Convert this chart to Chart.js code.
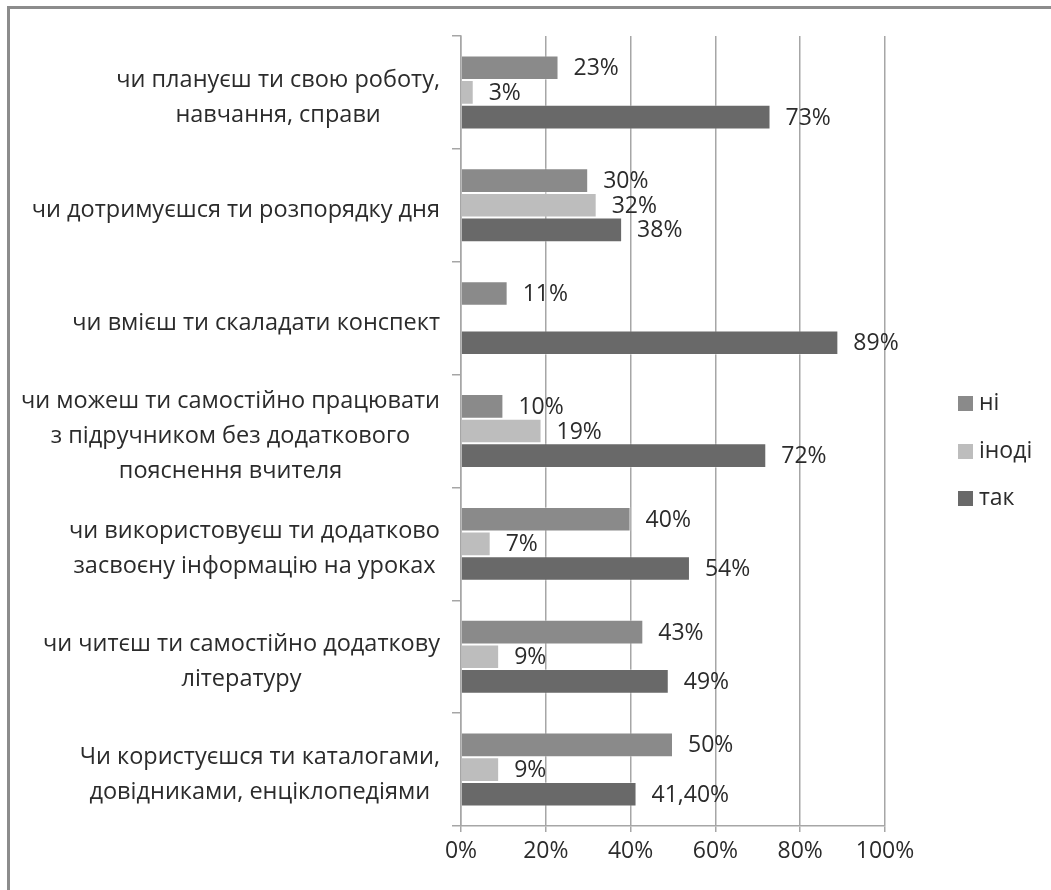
<!DOCTYPE html>
<html lang="uk">
<head>
<meta charset="utf-8">
<title>Самостійна робота учнів</title>
<script src="https://cdn.jsdelivr.net/npm/chart.js@4.4.1/dist/chart.umd.min.js"></script>
<style>
  html, body { margin: 0; padding: 0; background: #fff; overflow: hidden; }
  #wrap { position: relative; width: 1051px; height: 890px; }
  #frame {
    position: absolute; left: 7px; top: 6px; width: 1100px; height: 1000px;
    border-left: 3px solid #8c8c8c; border-top: 3px solid #8c8c8c;
    pointer-events: none;
  }
  canvas { position: absolute; left: 0; top: 0; }
</style>
</head>
<body>
<div id="wrap">
  <canvas id="chart" width="1051" height="890"></canvas>
  <div id="frame"></div>
</div>
<script>
// питання анкети (зверху вниз)
const questions = [
  ["чи плануєш ти свою роботу,", "навчання, справи"],
  ["чи дотримуєшся ти розпорядку дня"],
  ["чи вмієш ти скаладати конспект"],
  ["чи можеш ти самостійно працювати", "з підручником без додаткового", "пояснення вчителя"],
  ["чи використовуєш ти додатково", "засвоєну інформацію на уроках"],
  ["чи читєш ти самостійно додаткову", "літературу"],
  ["Чи користуєшся ти каталогами,", "довідниками, енціклопедіями"]
];

const seriesNames = ["ні", "іноді", "так"];
const noValues = [23, 30, 11, 10, 40, 43, 50];
const sometimesValues = [3, 32, null, 19, 7, 9, 9];
const yesValues = [73, 38, 89, 72, 54, 49, 41.4];
const xTicks = [0, 20, 40, 60, 80, 100];

const FONT = '"Open Sans", "Noto Sans", sans-serif';
const TEXT = "#2b2b2b";
const GRID = "#a6a6a6";
const colors = ["#8a8a8a", "#bdbdbd", "#696969"];

function pct(v) {
  if (Number.isInteger(v)) return v + "%";
  return v.toFixed(2).replace(".", ",") + "%";
}

// підписи значень праворуч від смуг
const valueLabels = {
  id: "valueLabels",
  afterDatasetsDraw(chart) {
    const ctx = chart.ctx;
    ctx.save();
    ctx.font = "23px " + FONT;
    ctx.fillStyle = TEXT;
    ctx.textAlign = "left";
    ctx.textBaseline = "middle";
    chart.data.datasets.forEach((ds, di) => {
      chart.getDatasetMeta(di).data.forEach((bar, i) => {
        const v = ds.data[i];
        if (v == null) return;
        ctx.fillText(pct(v), bar.x + 15, bar.y + 1);
      });
    });
    ctx.restore();
  }
};

// підписи категорій: рядки по центру блоку, блок вирівняний праворуч
const questionLabels = {
  id: "questionLabels",
  afterDraw(chart) {
    const ctx = chart.ctx;
    const y = chart.scales.y;
    const right = 440;
    const lineH = 35;
    ctx.save();
    ctx.font = "23.5px " + FONT;
    ctx.fillStyle = TEXT;
    ctx.textAlign = "center";
    ctx.textBaseline = "middle";
    questions.forEach((lines, i) => {
      const w = Math.max(...lines.map(l => ctx.measureText(l).width));
      const cx = right - w / 2;
      const cy = y.getPixelForValue(i) + 5;
      const top = cy - (lines.length - 1) * lineH / 2;
      lines.forEach((l, k) => ctx.fillText(l, cx, top + k * lineH));
    });
    ctx.restore();
  }
};

// легенда справа
const sideLegend = {
  id: "sideLegend",
  afterDraw(chart) {
    const ctx = chart.ctx;
    const rows = [403, 451, 498];
    ctx.save();
    ctx.font = "23px " + FONT;
    ctx.textBaseline = "middle";
    chart.data.datasets.forEach((ds, i) => {
      ctx.fillStyle = ds.backgroundColor;
      ctx.fillRect(958, rows[i] - 7, 15, 15);
      ctx.fillStyle = TEXT;
      ctx.fillText(ds.label, 979, rows[i]);
    });
    ctx.restore();
  }
};

const seriesValues = [noValues, sometimesValues, yesValues];

new Chart(document.getElementById("chart"), {
  type: "bar",
  data: {
    labels: questions.map(q => q.join(" ")),
    datasets: seriesNames.map((name, i) => ({
      label: name,
      data: seriesValues[i],
      backgroundColor: colors[i],
      borderColor: "rgba(255,255,255,0.35)",
      borderWidth: 1,
      barPercentage: 1,
      categoryPercentage: 0.655
    }))
  },
  options: {
    indexAxis: "y",
    responsive: false,
    animation: false,
    layout: { padding: { top: 36, right: 166, left: 0, bottom: 0 } },
    plugins: {
      legend: { display: false },
      tooltip: { enabled: false }
    },
    scales: {
      x: {
        min: 0,
        max: 100,
        afterBuildTicks(scale) { scale.ticks = xTicks.map(v => ({ value: v })); },
        afterFit(scale) { scale.height = 64; },
        grid: { color: GRID, lineWidth: 1.5, tickLength: 6 },
        border: { color: GRID, width: 1.5 },
        ticks: {
          padding: 6,
          color: TEXT,
          font: { family: FONT, size: 23 },
          callback: v => v + "%"
        }
      },
      y: {
        afterFit(scale) { scale.width = 461; },
        grid: { drawOnChartArea: false, color: GRID, lineWidth: 1.5, tickLength: 9 },
        border: { color: GRID, width: 1.5 },
        ticks: { display: false }
      }
    }
  },
  plugins: [valueLabels, questionLabels, sideLegend]
});
</script>
</body>
</html>
